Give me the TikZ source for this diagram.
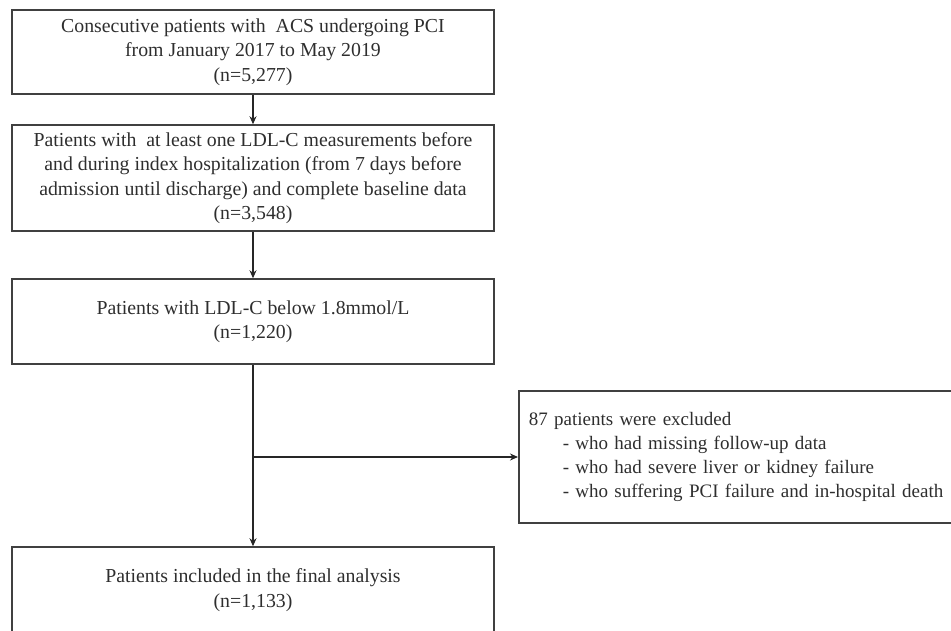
\documentclass[tikz,border=0pt]{standalone}
\usepackage{fontspec}
\setmainfont{Liberation Serif}
\usetikzlibrary{arrows.meta}
\definecolor{ln}{HTML}{404040}
\definecolor{tx}{HTML}{2E2E2E}
\begin{document}
\begin{tikzpicture}[x=1pt,y=-1pt,
  flowbox/.style={draw=ln,line width=1.5pt,minimum width=482pt,inner sep=0pt,align=center,text=tx,
    font=\fontsize{19.8}{24.3}\selectfont},
  conn/.style={draw=black!85,line width=1.8pt},
  arr/.style={conn,-{Stealth[length=8pt,width=7pt]}}]
\useasboundingbox (0,0) rectangle (951,630);
\clip (0,0) rectangle (951,630);
\node[flowbox,minimum height=84pt] (b1) at (253,52) {Consecutive patients with~ ACS undergoing PCI\\from January 2017 to May 2019\\(n=5,277)};
\node[flowbox,minimum height=106pt] (b2) at (253,178) {Patients with~ at least one LDL-C measurements before\\and during index hospitalization (from 7 days before\\admission until discharge) and complete baseline data\\(n=3,548)};
\node[flowbox,minimum height=85pt] (b3) at (253,321.5) {Patients with LDL-C below 1.8mmol/L\\(n=1,220)};
\node[flowbox,minimum height=86pt] (b4) at (253,590) {Patients included in the final analysis\\(n=1,133)};
\node[flowbox,minimum height=132pt,anchor=west,align=left,text width=470pt,inner xsep=10pt,
  font=\fontsize{19}{23.8}\selectfont] (ex) at (518,457) {87 patients were excluded\\\hspace*{34pt}- who had missing follow-up data\\\hspace*{34pt}- who had severe liver or kidney failure\\\hspace*{34pt}- who suffering PCI failure and in-hospital death};
\coordinate (br) at (b3.south |- ex.west);
\draw[arr] (b1) -- (b2);
\draw[arr] (b2) -- (b3);
\draw[arr] (b3) -- (b4);
\draw[arr] (br) -- (ex.west);
\end{tikzpicture}
\end{document}
